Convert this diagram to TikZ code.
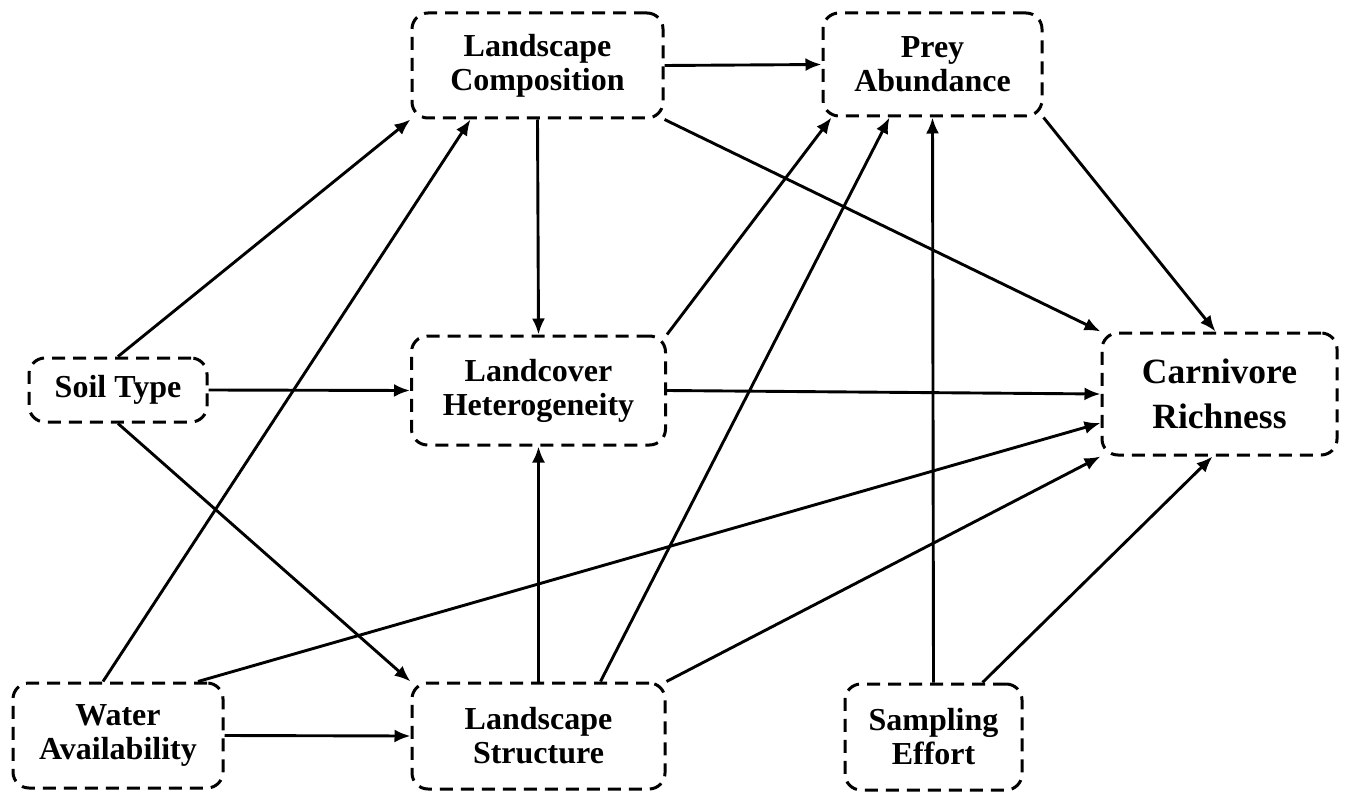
\documentclass[tikz,border=0pt]{standalone}
\usepackage{fontspec}
\setmainfont{Liberation Serif}
\usetikzlibrary{arrows.meta}
\begin{document}
\begin{tikzpicture}[x=1pt,y=-1pt,
  box/.style={draw, line width=3pt, dash pattern=on 13pt off 8pt, rounded corners=16pt,
    align=center, inner sep=0pt, font=\fontsize{32}{34}\selectfont\bfseries},
  bigbox/.style={box, font=\fontsize{35.5}{45}\selectfont\bfseries},
  arr/.style={line width=2.9pt, -{Latex[length=16pt,width=13pt]}}]
\useasboundingbox (0,0) rectangle (1348,794);
\node[box, minimum width=251pt, minimum height=105pt] (lc) at (537.5,65.5) {Landscape\\Composition};
\node[box, minimum width=219pt, minimum height=103pt] (pa) at (932.5,64.5) {Prey\\Abundance};
\node[box, minimum width=178pt, minimum height=64pt] (st) at (118,390) {Soil Type};
\node[box, minimum width=254pt, minimum height=109pt] (lh) at (538.5,390.5) {Landcover\\Heterogeneity};
\node[bigbox, minimum width=235pt, minimum height=122pt] (cr) at (1219.5,394) {Carnivore\\Richness};
\node[box, minimum width=210pt, minimum height=105pt] (wa) at (118,735.5) {Water\\Availability};
\node[box, minimum width=253pt, minimum height=106pt] (ls) at (538.5,736) {Landscape\\Structure};
\node[box, minimum width=177pt, minimum height=106pt] (se) at (933.5,737) {Sampling\\Effort};

\draw[arr] (lc.east) -- (pa.west);
\draw[arr] (lc.south east) -- (cr.north west);
\draw[arr] (lc.south) -- (lh.north);
\draw[arr] (pa.south east) -- ([xshift=-4pt]cr.north);
\draw[arr] (st.north) -- (lc.south west);
\draw[arr] (st.east) -- (lh.west);
\draw[arr] (st.south) -- (ls.north west);
\draw[arr] ([xshift=-15pt]wa.north) -- ([xshift=-67pt]lc.south);
\draw[arr] ([xshift=80pt]wa.north) -- ([yshift=-29pt]cr.west);
\draw[arr] (wa.east) -- (ls.west);
\draw[arr] (lh.north east) -- ([xshift=10pt]pa.south west);
\draw[arr] (lh.east) -- (cr.west);
\draw[arr] (ls.north) -- (lh.south);
\draw[arr] ([xshift=62pt]ls.north) -- ([xshift=-43pt]pa.south);
\draw[arr] (ls.north east) -- (cr.south west);
\draw[arr] (se.north) -- (pa.south);
\draw[arr] ([xshift=49pt]se.north) -- ([xshift=-7pt]cr.south);
\end{tikzpicture}
\end{document}
